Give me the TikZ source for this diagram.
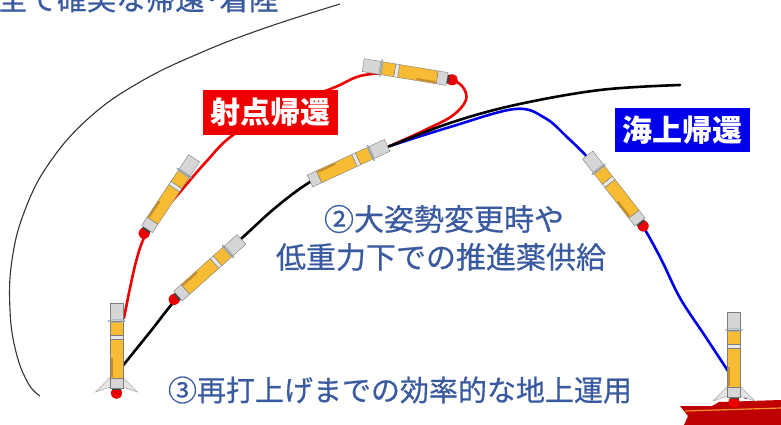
\documentclass[tikz,border=0pt]{standalone}
\usepackage{fontspec}
\newfontfamily\jp{Noto Sans CJK JP}
\newfontfamily\jpm[FakeBold=0.6]{Noto Sans CJK JP}
\definecolor{txtblue}{RGB}{58,90,160}
\definecolor{rktorange}{RGB}{247,188,52}
\definecolor{rktshade}{RGB}{196,140,40}
\definecolor{rktgray}{RGB}{214,214,214}
\definecolor{rktband}{RGB}{232,232,232}
\definecolor{rktedge}{RGB}{125,125,125}
\definecolor{ringcol}{RGB}{150,170,190}
\definecolor{flame}{RGB}{235,0,0}
\definecolor{retred}{RGB}{238,0,0}
\definecolor{retblue}{RGB}{0,0,235}
\definecolor{hull}{RGB}{190,0,0}
\definecolor{stripe}{RGB}{250,150,40}
% body of a vehicle, drawn along +x from the tail (0) to the nose (85)
\newcommand\rktbodydraw{%
  \filldraw[rktpart,fill=rktgray] (0,-6.5) rectangle (10,6.5);
  \filldraw[rktpart,fill=rktorange] (10,-6.5) rectangle (49,6.5);
  \fill[rktshade] (11,-6) rectangle (30,-4);
  \filldraw[rktpart,fill=rktband] (49,-6.5) rectangle (53,6.5);
  \filldraw[rktpart,fill=rktorange] (53,-6.5) rectangle (67,6.5);
  \filldraw[rktpart,fill=rktgray] (67,-6.5) rectangle (85,6.5);
  \draw[ringcol,line width=0.7pt] (67,0) ellipse (1.3 and 8.5);
}
\tikzset{
  rktpart/.style={draw=rktedge,line width=0.4pt},
  rocketbody/.pic={\rktbodydraw},
  rocket/.pic={
    \fill[flame] (-5,0) ellipse (6 and 5.5);
    \fill[black!75] (-2,-4.5) rectangle (0,4.5);
    \rktbodydraw
  },
  landlegs/.pic={
    \filldraw[fill=gray!20,draw=gray!65,line width=0.5pt] (11,6) -- (-4,21) -- (1,6) -- cycle;
    \filldraw[fill=gray!20,draw=gray!65,line width=0.5pt] (11,-6) -- (-4,-21) -- (1,-6) -- cycle;
  },
}
\begin{document}
\begin{tikzpicture}[x=1pt,y=-1pt,
  traj/.style={line width=2.6pt,line cap=round,line join=round},
  jptext/.style={text=txtblue,font=\jpm\fontsize{30pt}{34pt}\selectfont,inner sep=0pt},
  tag/.style={text=white,font=\jp\bfseries\fontsize{30pt}{34pt}\selectfont,
    minimum width=135pt,minimum height=44pt,inner sep=0pt},
]
\useasboundingbox (0,0) rectangle (781,425);
\clip (0,0) rectangle (781,425);

% key points of the trajectories
\coordinate (pad) at (121,368);
\coordinate (split) at (390,146);
\coordinate (apex) at (680,85);
\coordinate (padtop) at (124,318);
\coordinate (deck) at (746,398);

% thin arc around the return path
\draw[black!80,line width=1.1pt] plot[smooth,tension=0.7] coordinates
  {(40,396) (28,383) (16,352) (10,310) (12,260) (25,210) (50,162) (90,117) (140,82) (200,53) (265,28) (340,4)};

% sea return (blue)
\draw[traj,retblue] plot[smooth,tension=0.6] coordinates
  {(split) (450,127) (515,109) (545,118) (568,138) (590,160) (615,190) (640,222) (660,257) (680,298) (705,336) (728,371) (deck)};

% launch-site return (red)
\draw[traj,retred] plot[smooth,tension=0.6] coordinates
  {(split) (425,130) (452,116) (466,100) (462,86) (448,79) (420,74) (390,73) (360,76) (333,88) (283,107) (233,135) (205,163) (180,192) (160,215) (145,236) (137,258) (130,288) (padtop)};

% ascent (black)
\draw[traj,black] plot[smooth,tension=0.6] coordinates
  {(pad) (150,332) (178,297) (210,266) (242,238) (275,208) (310,182) (350,162) (split) (450,123) (515,105) (600,90) (apex)};

% ship deck
\fill[hull] (680,406) -- (712,406) -- (719,402) -- (781,400) -- (781,425) -- (684,425) -- (688,416) -- cycle;
\draw[stripe,line width=1.2pt] (685,411) -- (781,408);

% vehicles
\pic[rotate=90] (padlegs) at (116.5,388) {landlegs};
\pic[rotate=90] (padrkt) at (116.5,388) {rocket};
\pic[rotate=41.7] (lowrkt) at (178,296) {rocket};
\pic[rotate=24.8] (midrkt) at (310,181) {rocketbody};
\pic[rotate=170.6] (toprkt) at (447,79) {rocket};
\pic[rotate=56.3] (leftrkt) at (147,229) {rocket};
\pic[rotate=128] (bluerkt) at (640,222) {rocket};
\pic[rotate=90] (sealegs) at (734,397) {landlegs};
\pic[rotate=90] (searkt) at (734,397) {rocket};

% labels
\node[tag,fill=retred] (padtag) at (270.5,112.5) {射点帰還};
\node[tag,fill=retblue] (seatag) at (682.5,130) {海上帰還};

\node[jptext,anchor=base west] (head) at (-2,10) {\fontsize{29.5pt}{33pt}\selectfont 全で確実な帰還･着陸};
\node[jptext] (line2a) at (444,219) {②大姿勢変更時や};
\node[jptext] (line2b) at (441,257) {低重力下での推進薬供給};
\node[jptext] (line3) at (400,390) {\fontsize{29pt}{33pt}\selectfont ③再打上げまでの効率的な地上運用};
\end{tikzpicture}
\end{document}
